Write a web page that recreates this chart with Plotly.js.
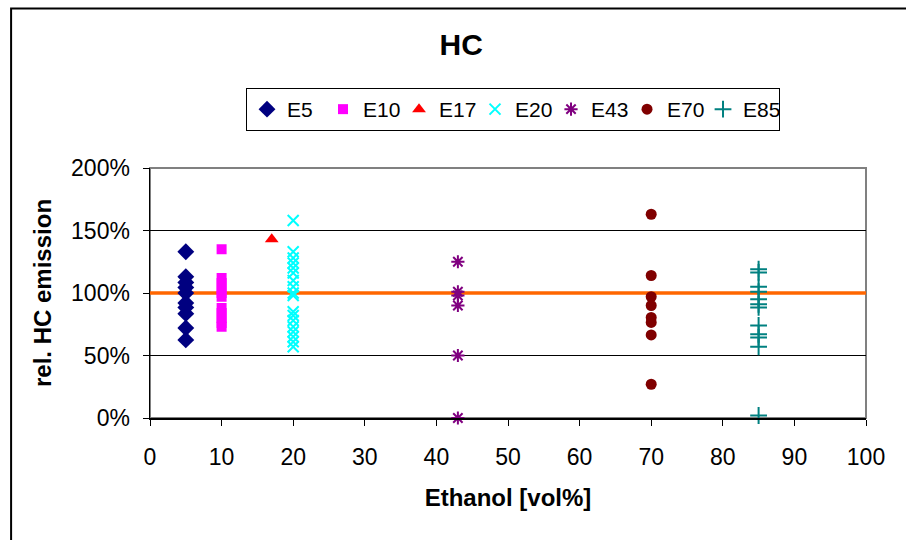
<!DOCTYPE html>
<html>
<head>
<meta charset="utf-8">
<script src="https://cdn.plot.ly/plotly-3.0.1.min.js"></script>
<style>
  html, body { margin: 0; padding: 0; background: #fff; }
  #chart { width: 906px; height: 540px; }
</style>
</head>
<body>
<div id="chart"></div>
<script>
// Ethanol blend levels (vol%) and relative HC emission (%) per measurement
const e5x  = 5;
const e5y  = [133, 113, 108.5, 104.5, 100, 92, 88.5, 83.5, 72, 62.5];
const e10x = 10;
const e10y = [135, 112, 108, 104, 100, 97, 88, 84, 80, 76, 73];
const e17x = 17;
const e17y = [143];
const e20x = 20;
const e20y = [158, 133, 128, 124, 120, 116, 110, 105, 100, 98, 85, 82, 78, 73, 69, 65, 61, 57];
const e43x = 43;
const e43y = [125, 101, 98, 90, 50, 0];
const e70x = 70;
const e70y = [163, 114, 97, 90, 80.5, 76.5, 66.5, 27];
const e85x = 85;
const e85y = [119, 116.5, 105, 101, 95, 91, 88.5, 74, 67, 64.5, 57, 2];

// Reference level (base fuel = 100 %)
const refX = [0, 100];
const refY = [100, 100];

const xTicks = [0, 10, 20, 30, 40, 50, 60, 70, 80, 90, 100];
const yTicks = [0, 50, 100, 150, 200];

const font = 'Liberation Sans, Arial, sans-serif';

function series(name, xv, yv, symbol, color, size, open) {
  const m = { symbol: symbol, size: size, color: color };
  if (open) m.line = { color: color, width: 2 };
  return {
    type: 'scatter', mode: 'markers', name: name,
    x: yv.map(() => xv), y: yv,
    marker: m, cliponaxis: false
  };
}

const traces = [
  {
    type: 'scatter', mode: 'lines', x: refX, y: refY,
    line: { color: '#FF6600', width: 3.5 }, showlegend: false, hoverinfo: 'skip'
  },
  series('E5',  e5x,  e5y,  'diamond', '#000080', 13, false),
  series('E10', e10x, e10y, 'square', '#FF00FF', 10, false),
  series('E17', e17x, e17y, 'triangle-up', '#FF0000', 12, false),
  series('E20', e20x, e20y, 'x-thin-open', '#00FFFF', 11, true),
  series('E43', e43x, e43y, 'asterisk-open', '#800080', 11, true),
  series('E70', e70x, e70y, 'circle', '#800000', 11, false),
  series('E85', e85x, e85y, 'cross-thin-open', '#008080', 12, true)
];

const layout = {
  width: 906, height: 540,
  margin: { l: 150, r: 40, t: 168, b: 122 },
  paper_bgcolor: '#ffffff', plot_bgcolor: '#ffffff',
  font: { family: font, color: '#000', size: 21 },
  title: {
    text: '<b>HC</b>', font: { family: font, size: 30, color: '#000' },
    x: 0.509, xanchor: 'center', y: 0.917, yanchor: 'middle'
  },
  showlegend: true,
  legend: {
    orientation: 'h', x: 0.507, xanchor: 'center', y: 1.32, yanchor: 'top',
    bordercolor: '#000', borderwidth: 1, bgcolor: '#fff',
    font: { family: font, size: 21, color: '#000' },
    itemwidth: 30, entrywidth: 31, entrywidthmode: 'pixels',
    tracegroupgap: 0, traceorder: 'normal'
  },
  xaxis: {
    range: [0, 100], tickvals: xTicks, ticktext: xTicks.map(String),
    showgrid: false, zeroline: false,
    showline: true, linecolor: '#000', linewidth: 1.5,
    ticks: 'outside', ticklen: 6, tickcolor: '#000', ticklabelstandoff: 12,
    tickfont: { family: font, size: 23, color: '#000' },
    title: { text: '<b>Ethanol [vol%]</b>', font: { family: font, size: 24, color: '#000' }, standoff: 20 }
  },
  yaxis: {
    range: [0, 200], tickvals: yTicks, ticktext: yTicks.map(v => v + '%'),
    showgrid: true, gridcolor: '#000', gridwidth: 1, zeroline: false,
    showline: true, linecolor: '#000', linewidth: 1.5,
    ticks: 'outside', ticklen: 6, tickcolor: '#000', ticklabelstandoff: 8,
    tickfont: { family: font, size: 23, color: '#000' },
    title: { text: '<b>rel. HC emission</b>', font: { family: font, size: 24, color: '#000' }, standoff: 12 }
  },
  shapes: [
    // plot-area border
    { type: 'rect', xref: 'paper', yref: 'paper', x0: 0, x1: 1, y0: 0, y1: 1,
      line: { color: '#808080', width: 2 }, layer: 'below' },
    // outer chart frame
    { type: 'rect', xref: 'paper', yref: 'paper',
      x0: -0.194, x1: 1.07, y0: -0.6, y1: 1.638,
      line: { color: '#000', width: 2 } }
  ]
};

Plotly.newPlot('chart', traces, layout, { displayModeBar: false, staticPlot: true });
</script>
</body>
</html>
